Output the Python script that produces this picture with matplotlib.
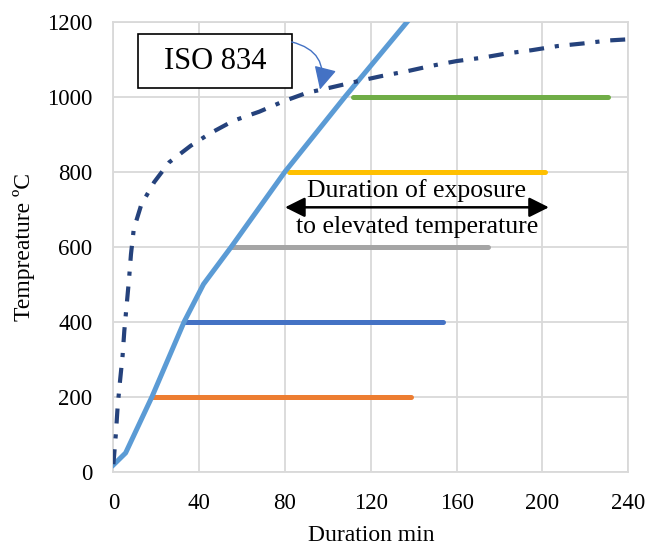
import numpy as np
import matplotlib.pyplot as plt
from matplotlib.patches import Rectangle

plt.rcParams['font.family'] = ['Liberation Serif', 'DejaVu Serif']

# ISO 834 standard fire curve
iso_t = [0, 1.2, 2, 3.1, 4.3, 5.1, 6.2, 7.3, 8.2, 9.5, 13, 19, 26, 36, 45, 56, 68, 79,
         90, 101, 113, 125, 137, 148, 160, 172, 183, 195, 207, 219, 231, 240]
iso_T = [20, 104, 175, 242, 310, 376, 445, 514, 580, 647, 712, 772, 825, 869, 902, 936, 960, 987,
         1010, 1024, 1040, 1055, 1068, 1082, 1095, 1104, 1115, 1124, 1135, 1142, 1150, 1153]

# heating curve (light blue)
heat_t = [0, 5.7, 18, 33, 42, 55, 80, 108, 137]
heat_T = [18, 50, 200, 400, 500, 600, 800, 1000, 1200]

# exposure plateaus
plat_T = [200, 400, 600, 800, 1000]
plat_start = [18, 33, 55.3, 81.9, 111.8]
plat_end = [138.7, 153.7, 174.6, 201, 230.7]
plat_col = ['#ED7D31', '#4472C4', '#A5A5A5', '#FFC000', '#70AD47']

xticks = [0, 40, 80, 120, 160, 200, 240]
yticks = [0, 200, 400, 600, 800, 1000, 1200]

fig = plt.figure(figsize=(6.65, 5.49), dpi=100)
ax = fig.add_axes([0.1705, 0.1408, 0.7743, 0.8197])

for T, a, b, c in zip(plat_T, plat_start, plat_end, plat_col):
    ax.plot([a, b], [T, T], color=c, lw=3.6, solid_capstyle='round', zorder=3)

ax.plot(heat_t, heat_T, color='#5B9BD5', lw=3.6, solid_joinstyle='round', zorder=4)
ax.plot(iso_t, iso_T, color='#25427C', lw=3, linestyle=(0, (3.6, 2.6, 1, 2.6)), zorder=5)

# double arrow + text
ax.annotate('', xy=(80, 705), xytext=(203, 705),
            arrowprops=dict(arrowstyle='<|-|>,head_length=0.5,head_width=0.25', color='black',
                            lw=1.8, mutation_scale=24, shrinkA=0, shrinkB=0), zorder=6)
ax.text(141.5, 718, 'Duration of exposure', ha='center', va='bottom', fontsize=18.5, zorder=6)
ax.text(141.5, 682, 'to elevated temperature', ha='center', va='top', fontsize=18.5, zorder=6)

# ISO 834 label box
ax.add_patch(Rectangle((11.6, 1022), 71.5, 144, facecolor='white', edgecolor='black', lw=1.2, zorder=6))
ax.text(47.4, 1094, 'ISO 834', ha='center', va='center', fontsize=22, zorder=7)
ax.annotate('', xy=(96.3, 1019), xytext=(83.1, 1146),
            arrowprops=dict(arrowstyle='-|>,head_length=0.7,head_width=0.35', color='#4472C4', lw=1,
                            mutation_scale=20, shrinkA=0, shrinkB=0,
                            connectionstyle='arc3,rad=-0.5'), zorder=7)

ax.set_xlim(0, 240)
ax.set_ylim(0, 1200)
ax.set_xticks(xticks)
ax.set_yticks(yticks)
ax.tick_params(length=0, labelsize=16.5)
ax.tick_params(axis='y', pad=15)
ax.tick_params(axis='x', pad=15)
ax.grid(True, color='#D9D9D9', lw=1.3)
ax.set_axisbelow(True)
for s in ax.spines.values():
    s.set_color('#D9D9D9')
    s.set_linewidth(1.3)

ax.set_xlabel('Duration min', fontsize=17, labelpad=8)
ax.set_ylabel('Tempreature ºC', fontsize=17, labelpad=9)

fig.savefig('out.png', dpi=100)
